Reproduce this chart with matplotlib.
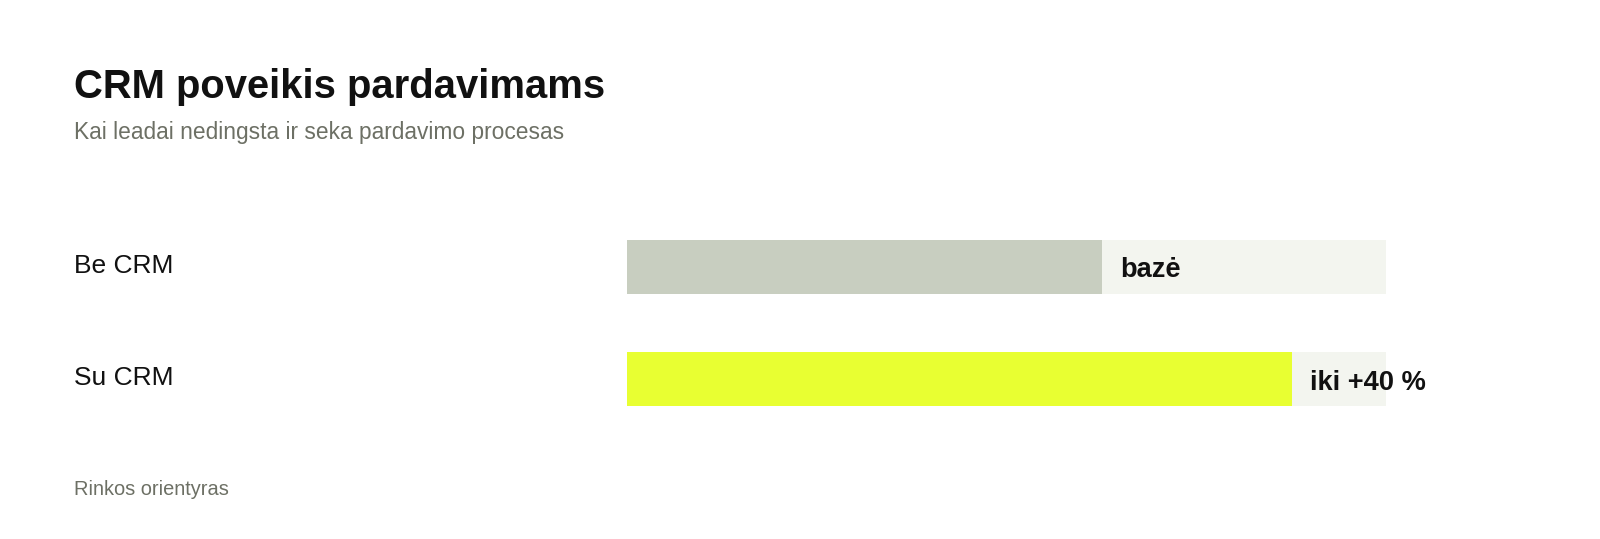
import matplotlib
matplotlib.use("Agg")
import matplotlib.pyplot as plt
from matplotlib.transforms import blended_transform_factory

plt.rcParams['font.family'] = ['Liberation Sans', 'DejaVu Sans']

# ---- data ----
categories = ["Be CRM", "Su CRM"]
values = [100, 140]
value_labels = ["bazė", "iki +40 %"]
axis_max = 160
title = "CRM poveikis pardavimams"
subtitle = "Kai leadai nedingsta ir seka pardavimo procesas"
footer = "Rinkos orientyras"

bar_colors = ["#c8cec0", "#e8ff32"]
track_color = "#f3f5ef"
text_color = "#111111"
muted_color = "#6d7065"

W, H = 1600, 539
fig = plt.figure(figsize=(W / 100, H / 100), dpi=100)
fig.patch.set_facecolor("white")

bar_h = 54 / 112.2
ax = fig.add_axes([626.5 / W, 1 - 406.1 / H, 760 / W, 166.3 / H])
ax.set_xlim(0, axis_max)
ax.set_ylim(1 + bar_h / 2, -bar_h / 2)
ax.axis("off")

ypos = list(range(len(categories)))
ax.barh(ypos, [axis_max] * len(categories), height=bar_h, color=track_color, left=0, zorder=1)
ax.barh(ypos, values, height=bar_h, color=bar_colors, zorder=2)

blend = blended_transform_factory(fig.transFigure, ax.transData)
for y, cat, v, lab in zip(ypos, categories, values, value_labels):
    ax.annotate(cat, xy=(74.5 / W, y), xycoords=blend, xytext=(0, -4.3),
                textcoords="offset points", ha="left", va="baseline",
                fontsize=19, color=text_color, annotation_clip=False)
    ax.annotate(lab, xy=(v, y), xycoords="data", xytext=(13.2, -7.5),
                textcoords="offset points", ha="left", va="baseline",
                fontsize=19.6, fontweight="bold", color=text_color,
                annotation_clip=False, zorder=3)

fig.text(74.5 / W, 1 - 98 / H, title, fontsize=28.8, fontweight="bold",
         color=text_color, ha="left", va="baseline")
fig.text(74.5 / W, 1 - 139 / H, subtitle, fontsize=16.4, color=muted_color,
         ha="left", va="baseline")
fig.text(74.5 / W, 1 - 495 / H, footer, fontsize=14.4, color=muted_color,
         ha="left", va="baseline")

fig.savefig("out.png", dpi=100, facecolor="white")
